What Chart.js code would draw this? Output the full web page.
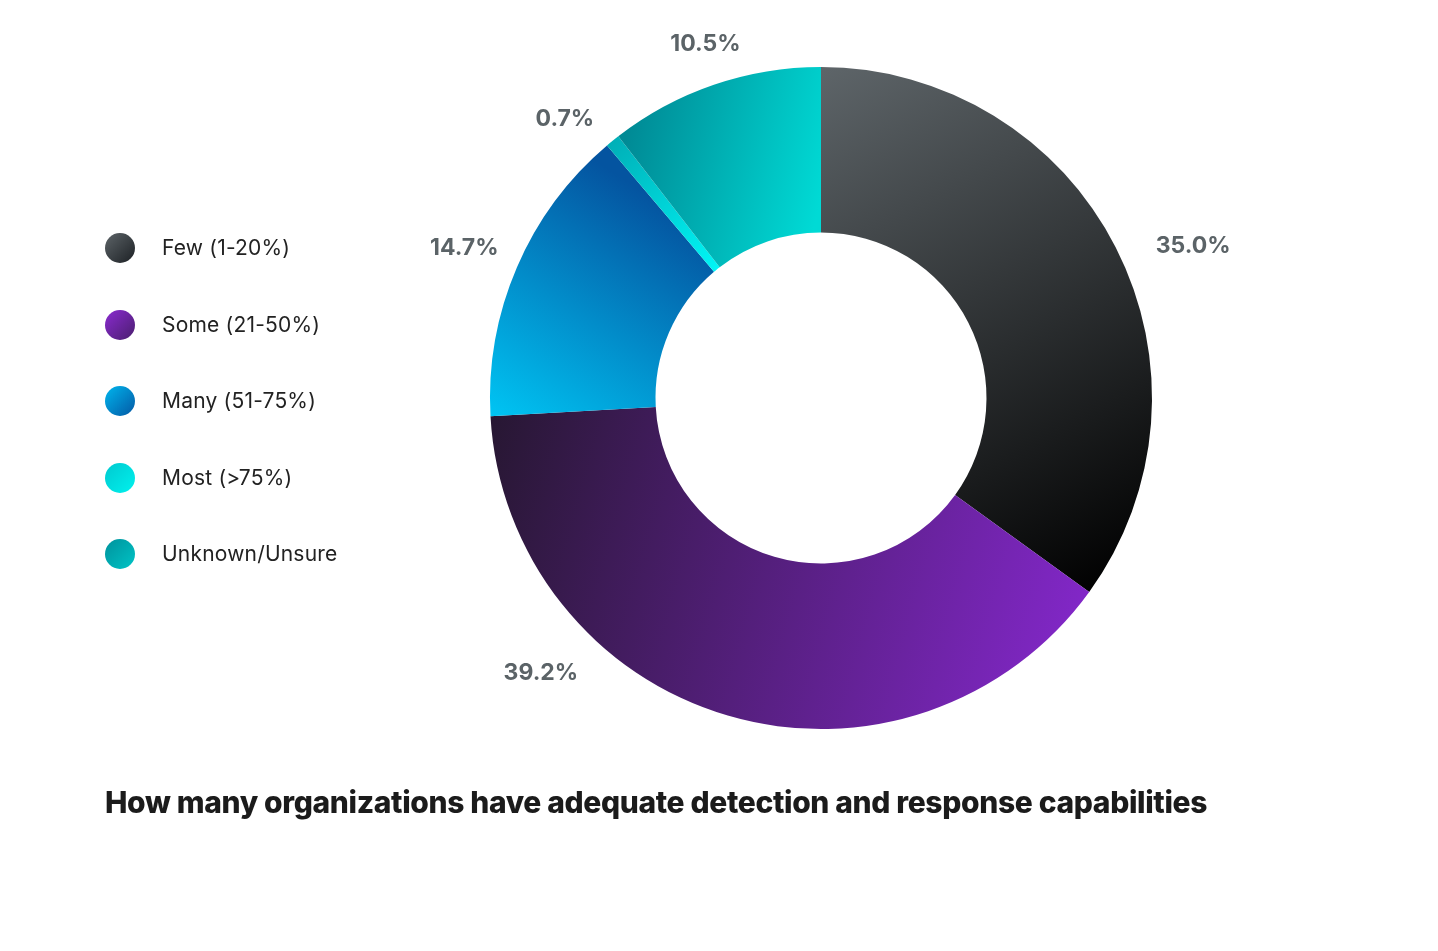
<!DOCTYPE html>
<html>
<head>
<meta charset="utf-8">
<script src="https://cdn.jsdelivr.net/npm/chart.js@4.4.1/dist/chart.umd.min.js"></script>
<style>
  html, body { margin: 0; padding: 0; background: #fff; }
  body { width: 1438px; height: 951px; position: relative; overflow: hidden; font-family: Inter, "Noto Sans", sans-serif; }
  #chart { position: absolute; left: 0; top: 0; }
  #legend { position: absolute; left: 105px; top: 233px; }
  .item { height: 76.5px; display: flex; align-items: flex-start; }
  .dot { width: 30px; height: 30px; border-radius: 50%; flex: none; }
  .lbl { margin-left: 27px; font-size: 21px; line-height: 30px; color: #222; letter-spacing: 0.2px; }
  #title { position: absolute; left: 105px; top: 784px; font-size: 30px; font-weight: 800; color: #1b1b1b; letter-spacing: -0.35px; white-space: nowrap; }
</style>
</head>
<body>
<canvas id="chart" width="1438" height="951"></canvas>
<div id="legend"></div>
<div id="title">How many organizations have adequate detection and response capabilities</div>
<script>
var categories = ['Few (1-20%)', 'Some (21-50%)', 'Many (51-75%)', 'Most (>75%)', 'Unknown/Unsure']
var shares = [35.0, 39.2, 14.7, 0.7, 10.5]
var shareLabels = ['35.0%', '39.2%', '14.7%', '0.7%', '10.5%']

// slice gradients, start/end given relative to the circle (unit radius)
var sliceStyles = [
    {from: [0, -1], to: [0.85, 0.6], c0: '#5e6569', c1: '#000000'},
    {from: [-1, 0.05], to: [0.8, 0.55], c0: '#271732', c1: '#8127c6'},
    {from: [-0.95, 0.1], to: [-0.5, -0.6], c0: '#00c6f4', c1: '#0454a0'},
    {from: [-0.65, -0.75], to: [-0.3, -0.4], c0: '#00b0b8', c1: '#00f6f6'},
    {from: [-0.6, -0.75], to: [0, -0.6], c0: '#008a95', c1: '#00dad5'}
]
var legendColors = [
    ['#5d6468', '#1c2024'],
    ['#8a2bd0', '#4a1e6e'],
    ['#00b6ee', '#0458a4'],
    ['#00c9d0', '#00f2ee'],
    ['#00929c', '#00c4c6']
]
// nudge for label angle (degrees) and distance, so labels clear the title
var labelShift = [4.9, 29.2, -0.5, -3.5, 0.8]
var labelGap = [32, 27, 20, 20, 20]

function sliceFill(context) {
    var chart = context.chart
    var area = chart.chartArea
    if (!area) return '#888'
    var s = sliceStyles[context.dataIndex]
    var cx = (area.left + area.right) / 2
    var cy = (area.top + area.bottom) / 2
    var r = Math.min(area.right - area.left, area.bottom - area.top) / 2
    var g = chart.ctx.createLinearGradient(cx + s.from[0] * r, cy + s.from[1] * r, cx + s.to[0] * r, cy + s.to[1] * r)
    g.addColorStop(0, s.c0)
    g.addColorStop(1, s.c1)
    return g
}

var outsideLabels = {
    id: 'outsideLabels',
    afterDatasetsDraw: function (chart) {
        var ctx = chart.ctx
        var meta = chart.getDatasetMeta(0)
        ctx.save()
        ctx.font = '700 23px Inter, "Noto Sans", sans-serif'
        ctx.fillStyle = '#5b6367'
        ctx.textAlign = 'center'
        ctx.textBaseline = 'middle'
        meta.data.forEach(function (arc, i) {
            var a = (arc.startAngle + arc.endAngle) / 2 + labelShift[i] * Math.PI / 180
            var dx = Math.cos(a), dy = Math.sin(a)
            var text = shareLabels[i]
            var w = ctx.measureText(text).width
            var h = 22
            var ext = Math.abs(dx) * w / 2 + Math.abs(dy) * h / 2
            var R = arc.outerRadius + labelGap[i] + ext
            ctx.fillText(text, arc.x + dx * R, arc.y + dy * R)
        })
        ctx.restore()
    }
}

var legend = document.getElementById('legend')
categories.forEach(function (name, i) {
    var row = document.createElement('div')
    row.className = 'item'
    var dot = document.createElement('div')
    dot.className = 'dot'
    dot.style.background = 'linear-gradient(135deg, ' + legendColors[i][0] + ', ' + legendColors[i][1] + ')'
    var lbl = document.createElement('div')
    lbl.className = 'lbl'
    lbl.textContent = name
    row.appendChild(dot)
    row.appendChild(lbl)
    legend.appendChild(row)
})

var myChart = new Chart(document.getElementById('chart'), {
    type: 'doughnut',
    data: {
        labels: categories,
        datasets: [{
            data: shares,
            backgroundColor: sliceFill,
            borderWidth: 0,
            hoverOffset: 0
        }]
    },
    plugins: [outsideLabels],
    options: {
        responsive: false,
        animation: false,
        cutout: '50%',
        layout: {padding: {left: 490, right: 286, top: 67, bottom: 222}},
        plugins: {
            legend: {display: false},
            tooltip: {enabled: false},
            title: {display: false}
        }
    }
})
</script>
</body>
</html>
